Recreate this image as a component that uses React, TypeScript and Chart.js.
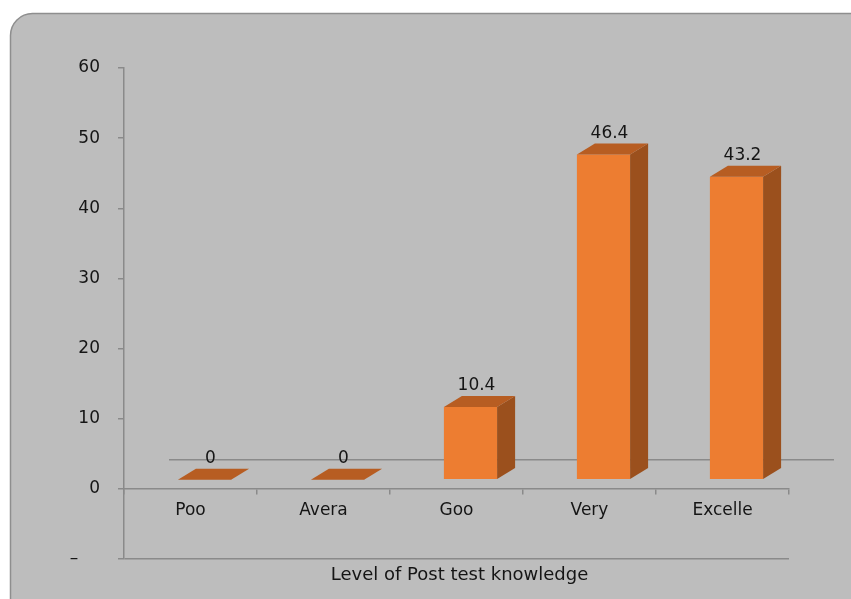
import { useEffect, useRef } from 'react';
import { Chart, registerables } from 'chart.js';

Chart.register(...registerables);

// Knowledge levels (labels as printed) and their percentages
const categories = ['Poo', 'Avera', 'Goo', 'Very', 'Excelle'];
const values = [0, 0, 10.4, 46.4, 43.2];

// Value axis
const yMin = -10;
const yMax = 60;
const yStep = 10;
const xTitle = 'Level of Post test knowledge';

const FONT = '"DejaVu Sans", sans-serif';
const TEXT = '#151515';
const AXIS = '#8a8a8a';

const FRONT = '#ed7d31';
const SIDE = '#9b501d';
const TOP = '#b75d22';

// pseudo-3D geometry
const DEPTH_X = 18;
const DEPTH_Y = -11;
const SHIFT_X = 14;
const SHIFT_Y = -9;
const FLOOR_X = 45;
const FLOOR_Y = -29;

const boxPlugin = {
  id: 'box3d',
  beforeDraw(chart: any) {
    const ctx = chart.ctx;
    ctx.save();
    ctx.fillStyle = '#ffffff';
    ctx.fillRect(0, 0, chart.width, chart.height);
    ctx.beginPath();
    ctx.roundRect(10.5, 13.5, 900, 700, 22);
    ctx.fillStyle = '#bdbdbd';
    ctx.fill();
    ctx.strokeStyle = '#8e8e8e';
    ctx.lineWidth = 1.5;
    ctx.stroke();
    ctx.restore();
  },
  beforeDatasetsDraw(chart: any) {
    const { ctx, scales } = chart;
    const x = scales.x;
    const y0 = scales.y.getPixelForValue(0);
    // back edge of the floor
    ctx.save();
    ctx.strokeStyle = AXIS;
    ctx.lineWidth = 1.5;
    ctx.beginPath();
    ctx.moveTo(x.left + FLOOR_X, y0 + FLOOR_Y);
    ctx.lineTo(x.right + FLOOR_X, y0 + FLOOR_Y);
    ctx.stroke();
    ctx.restore();
    ctx.save();
    ctx.translate(SHIFT_X, SHIFT_Y);
  },
  afterDatasetsDraw(chart: any) {
    const ctx = chart.ctx;
    const meta = chart.getDatasetMeta(0);
    meta.data.forEach((bar: any, i: number) => {
      const { x, y, base, width } = bar.getProps(['x', 'y', 'base', 'width'], true);
      const l = x - width / 2;
      const r = x + width / 2;
      if (base - y > 0.5) {
        ctx.beginPath();
        ctx.moveTo(r, y);
        ctx.lineTo(r + DEPTH_X, y + DEPTH_Y);
        ctx.lineTo(r + DEPTH_X, base + DEPTH_Y);
        ctx.lineTo(r, base);
        ctx.closePath();
        ctx.fillStyle = SIDE;
        ctx.fill();
      }
      ctx.beginPath();
      ctx.moveTo(l, y);
      ctx.lineTo(r, y);
      ctx.lineTo(r + DEPTH_X, y + DEPTH_Y);
      ctx.lineTo(l + DEPTH_X, y + DEPTH_Y);
      ctx.closePath();
      ctx.fillStyle = TOP;
      ctx.fill();

      ctx.font = `17px ${FONT}`;
      ctx.fillStyle = TEXT;
      ctx.textAlign = 'center';
      ctx.textBaseline = 'middle';
      ctx.fillText(String(values[i]), x + 6, y - 21);
    });
    ctx.restore();
  },
  afterDraw(chart: any) {
    const { ctx, chartArea } = chart;
    ctx.save();
    ctx.font = `18px ${FONT}`;
    ctx.fillStyle = TEXT;
    ctx.textAlign = 'center';
    ctx.textBaseline = 'middle';
    ctx.fillText(xTitle, (chartArea.left + chartArea.right) / 2 + 3, 575);
    ctx.restore();
  },
};

export default function App() {
  const ref = useRef<HTMLCanvasElement | null>(null);

  useEffect(() => {
    if (!ref.current) return;
    const chart = new Chart(ref.current, {
      type: 'bar',
      data: {
        labels: categories,
        datasets: [
          {
            data: values,
            backgroundColor: FRONT,
            borderWidth: 0,
            categoryPercentage: 1,
            barPercentage: 0.4,
          },
        ],
      },
      options: {
        animation: false,
        responsive: false,
        events: [],
        layout: { padding: { left: 0, top: 68, right: 62, bottom: 40 } },
        plugins: {
          legend: { display: false },
          title: { display: false },
          tooltip: { enabled: false },
        },
        scales: {
          x: {
            type: 'category',
            position: { y: 0 } as any,
            grid: {
              offset: true,
              drawOnChartArea: false,
              tickLength: 5,
              color: AXIS,
              lineWidth: 1.5,
            },
            border: { display: true, color: AXIS, width: 1.5 },
            ticks: {
              font: { family: FONT, size: 17 },
              color: TEXT,
              padding: 7,
              maxRotation: 0,
              autoSkip: false,
            },
          },
          y: {
            min: yMin,
            max: yMax,
            afterFit: (scale: any) => {
              scale.width = 124;
            },
            grid: {
              drawOnChartArea: true,
              tickLength: 6,
              lineWidth: 1.5,
              color: (c: any) => (c.tick && c.tick.value === yMin ? AXIS : 'rgba(0,0,0,0)'),
              tickColor: AXIS,
            },
            border: { display: true, color: AXIS, width: 1.5 },
            ticks: {
              stepSize: yStep,
              font: { family: FONT, size: 17 },
              color: TEXT,
              padding: 18,
              callback: (v: any) => (Number(v) === yMin ? '\u2013\u2007\u2007' : String(v)),
            },
          },
        },
      },
      plugins: [boxPlugin],
    });
    return () => chart.destroy();
  }, []);

  return (
    <div style={{ position: 'absolute', left: 0, top: 0, width: 851, height: 599 }}>
      <canvas ref={ref} width={851} height={599} />
    </div>
  );
}
